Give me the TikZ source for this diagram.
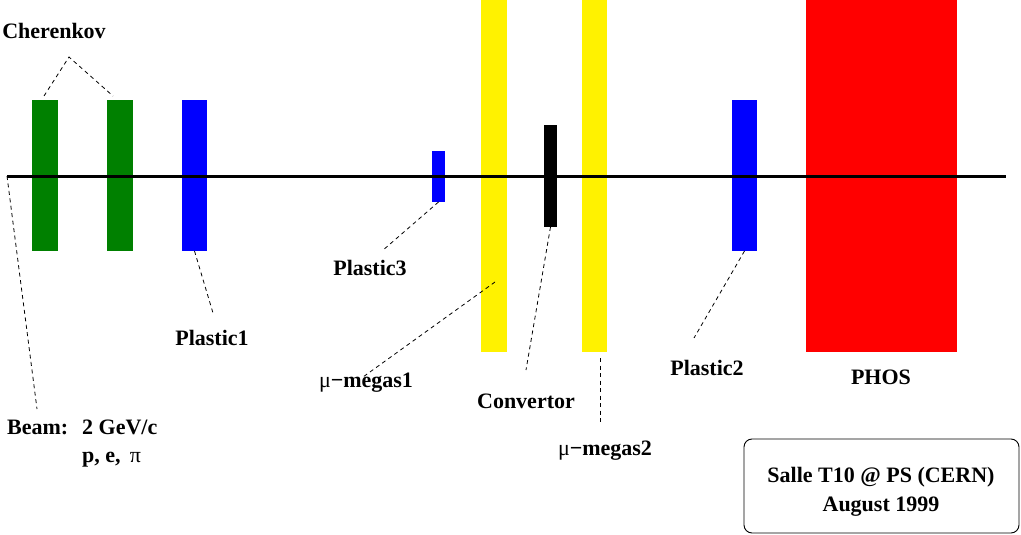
\documentclass[tikz,border=0pt]{standalone}
\usepackage{fontspec}
\setmainfont{Liberation Serif}
\begin{document}
\begin{tikzpicture}[x=1pt,y=-1pt,
  bar/.style={inner sep=0pt,outer sep=0pt,draw=none,minimum width=#1},
  lbl/.style={inner sep=0pt,font=\fontsize{22}{26}\selectfont\bfseries},
  lead/.style={draw=black,line width=0.8pt,dash pattern=on 4pt off 3.5pt}]
\useasboundingbox (0,0) rectangle (1021,535);
% detectors
\node[bar=26pt,fill={rgb,255:red,0;green,128;blue,0},minimum height=151pt] (cher1) at (45,175.5) {};
\node[bar=26pt,fill={rgb,255:red,0;green,128;blue,0},minimum height=151pt] (cher2) at (120,175.5) {};
\node[bar=25pt,fill=blue,minimum height=151pt] (pl1) at (194.5,175.5) {};
\node[bar=13pt,fill=blue,minimum height=51pt] (pl3) at (438.5,176.5) {};
\node[bar=26pt,fill=yellow,minimum height=352pt] (mm1) at (494,176) {};
\node[bar=13pt,fill=black,minimum height=102pt] (conv) at (550.5,176) {};
\node[bar=25pt,fill=yellow,minimum height=352pt] (mm2) at (594.5,176) {};
\node[bar=25pt,fill=blue,minimum height=151pt] (pl2) at (744.5,175.5) {};
\node[bar=151pt,fill=red,minimum height=352pt] (phos) at (881.5,176) {};
% beam line
\coordinate (bw) at (7,176);
\coordinate (be) at (1006,176);
\draw[line width=3pt] (bw) -- (be);
% labels
\node[lbl] (tcher) at (54,31) {Cherenkov};
\node[lbl] (tpl1) at (212,338) {Plastic1};
\node[lbl] (tpl3) at (370,268) {Plastic3};
\node[lbl] (tmm1) at (366,383) {{\mdseries μ}−megas1};
\node[lbl] (tconv) at (526,401) {Convertor};
\node[lbl] (tmm2) at (605,451) {{\mdseries μ}−megas2};
\node[lbl] (tpl2) at (707,368) {Plastic2};
\node[lbl] (tphos) at (881,377) {PHOS};
\node[lbl,anchor=west] (tbeam) at (7,427) {Beam:};
\node[lbl,anchor=west] (tgev) at (82,427) {2 GeV/c};
\node[lbl,anchor=west] (tpart) at (82,460) {p, e,\, {\mdseries π}};
% info box
\node[draw,line width=0.9pt,rounded corners=8pt,minimum width=275pt,minimum height=94pt,inner sep=0pt] (info) at (881.5,486) {};
\node[lbl] (tsalle) at (881,477) {Salle T10 @ PS (CERN)};
\node[lbl] (taug) at (881,507) {August 1999};
% leader lines
\coordinate (apex) at (69,57);
\coordinate (c1) at (44,96);
\coordinate (c2) at (113,96);
\draw[lead] (c1) -- (apex) -- (c2);
\coordinate (bend) at (37,409);
\draw[lead] (bw) -- (bend);
\coordinate (p1end) at (213,313);
\draw[lead] (pl1.south) -- (p1end);
\coordinate (p3end) at (382,251);
\draw[lead] (pl3.south) -- (p3end);
\coordinate (m1start) at (495,282);
\coordinate (m1end) at (363,377);
\draw[lead] (m1start) -- (m1end);
\coordinate (cvend) at (526,370);
\draw[lead] (conv.south) -- (cvend);
\coordinate (m2start) at (600,358);
\coordinate (m2end) at (600,423);
\draw[lead] (m2start) -- (m2end);
\coordinate (p2end) at (694,338);
\draw[lead] (pl2.south) -- (p2end);
\end{tikzpicture}
\end{document}
